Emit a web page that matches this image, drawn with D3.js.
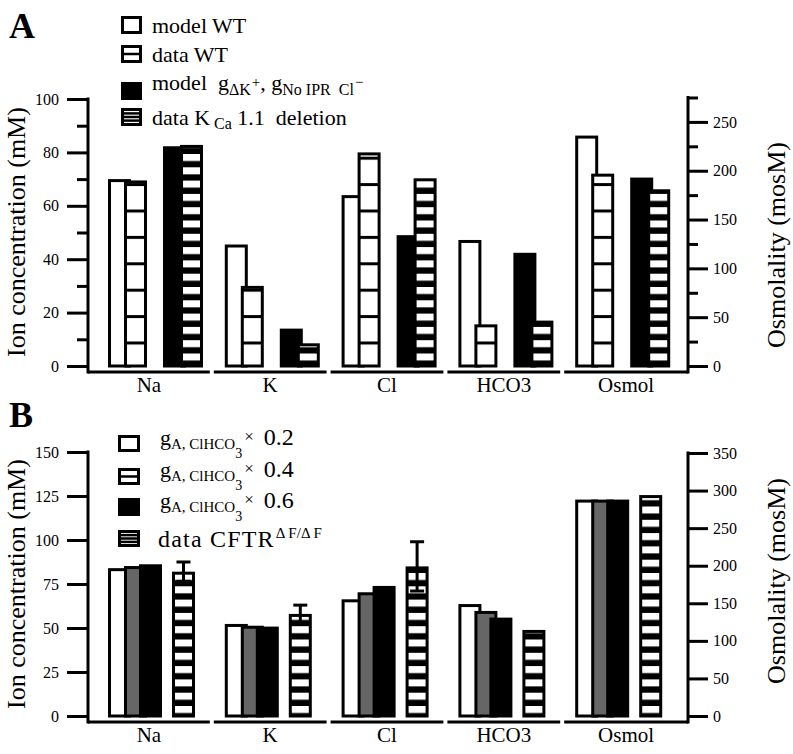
<!DOCTYPE html>
<html><head><meta charset="utf-8">
<script src="https://cdn.jsdelivr.net/npm/d3@7"></script>
<style>
body{margin:0;background:#fff}
svg{display:block}
text{font-family:"Liberation Serif","Times New Roman",serif;fill:#000;white-space:pre}
</style>
</head><body>
<svg id="c" width="793" height="754"></svg>
<script>
// ---------- DATA ----------
const categories = ["Na", "K", "Cl", "HCO3", "Osmol"];
// Panel A (ion concentrations in mM, Osmol in mosM)
const aModelWT  = [70, 45.5, 64, 47.2, 236];
const aDataWT   = [69.5, 30, 80, 15.6, 197];
const aModelDel = [82.3, 14, 49, 42.4, 193];
const aDataDel  = [82.8, 8.5, 70.3, 17, 181];
// Panel B
const bG02      = [84, 52.3, 66.3, 63.6, 288];
const bG04      = [85.2, 51.3, 70.3, 59.7, 288];
const bG06      = [86.2, 50.8, 73.9, 55.9, 288];
const bCFTR     = [82, 58, 85, 48.9, 294];
const bCFTRErr  = [5.5, 5, 14, 0, 0];
// Axis ticks
const aLeftMajor  = [0, 20, 40, 60, 80, 100];
const aLeftMinor  = [10, 30, 50, 70, 90];
const aRightMajor = [0, 50, 100, 150, 200, 250];
const aRightMinor = [25, 75, 125, 175, 225, 275];
const bLeftMajor  = [0, 25, 50, 75, 100, 125, 150];
const bRightMajor = [0, 50, 100, 150, 200, 250, 300, 350];

// ---------- SETUP ----------
const svg = d3.select("#c");
const axL = 88, axR = 688;
const x = d3.scaleBand().domain(categories).range([96, 680]);
const gx = c => x(c) + 12;

const yA  = d3.scaleLinear().domain([0, 100]).range([366, 99]);
const yA2 = d3.scaleLinear().domain([0, 275]).range([366, 97.5]);
const yB  = d3.scaleLinear().domain([0, 150]).range([716, 452]);
const yB2 = d3.scaleLinear().domain([0, 350]).range([716, 453]);

// patterns
const defs = svg.append("defs");
function sparse(id, y0) {
  const p = defs.append("pattern").attr("id", id).attr("patternUnits", "userSpaceOnUse")
    .attr("width", 10).attr("height", 26.4).attr("patternTransform", `translate(0,${y0})`);
  p.append("rect").attr("width", 10).attr("height", 26.4).attr("fill", "#fff");
  p.append("rect").attr("width", 10).attr("height", 3).attr("fill", "#000");
}
function dense(id, y0) {
  const p = defs.append("pattern").attr("id", id).attr("patternUnits", "userSpaceOnUse")
    .attr("width", 10).attr("height", 13.3).attr("patternTransform", `translate(0,${y0})`);
  p.append("rect").attr("width", 10).attr("height", 13.3).attr("fill", "#000");
  p.append("rect").attr("width", 10).attr("height", 7).attr("fill", "#fff");
}
sparse("sparseA", 341.5);
dense("denseA", 353.5);
dense("denseB", 706);

// ---------- AXES ----------
function styleAxis(g, fs) {
  g.select(".domain").remove();
  g.selectAll(".tick line").attr("stroke", "#000").attr("stroke-width", 3);
  g.selectAll(".tick text").attr("font-size", fs).attr("fill", "#000");
  g.attr("font-family", null);
}
function panelAxes(yL, yR, lMajor, lMinor, rMajor, rMinor, xAxisY, leftTop, rightTop) {
  const gL = svg.append("g").attr("transform", `translate(${axL},0)`)
    .call(d3.axisLeft(yL).tickValues(lMajor).tickSize(21).tickPadding(8).tickSizeOuter(0));
  styleAxis(gL, 16);
  if (lMinor.length) {
    const gLm = svg.append("g").attr("transform", `translate(${axL},0)`)
      .call(d3.axisLeft(yL).tickValues(lMinor).tickSize(11).tickFormat("").tickSizeOuter(0));
    styleAxis(gLm, 16);
  }
  const gR = svg.append("g").attr("transform", `translate(${axR},0)`)
    .call(d3.axisRight(yR).tickValues(rMajor).tickSize(20).tickPadding(5).tickSizeOuter(0));
  styleAxis(gR, 16);
  if (rMinor.length) {
    const gRm = svg.append("g").attr("transform", `translate(${axR},0)`)
      .call(d3.axisRight(yR).tickValues(rMinor).tickSize(10).tickFormat("").tickSizeOuter(0));
    styleAxis(gRm, 16);
  }
  svg.append("line").attr("x1", axL).attr("x2", axL).attr("y1", leftTop - 1.5).attr("y2", xAxisY + 1.5)
    .attr("stroke", "#000").attr("stroke-width", 3);
  svg.append("line").attr("x1", axR).attr("x2", axR).attr("y1", rightTop - 1.5).attr("y2", xAxisY + 1.5)
    .attr("stroke", "#000").attr("stroke-width", 3);
  // broken x axis segments
  categories.forEach((c, i) => {
    const x0 = i === 0 ? axL : x(c) + 1;
    const x1 = i === categories.length - 1 ? axR : x(c) + x.step() - 3;
    svg.append("line").attr("x1", x0).attr("x2", x1).attr("y1", xAxisY).attr("y2", xAxisY)
      .attr("stroke", "#000").attr("stroke-width", 3);
    svg.append("text").attr("x", (x0 + x1) / 2).attr("y", xAxisY + 20).attr("text-anchor", "middle")
      .attr("font-size", 21).text(c);
  });
}
panelAxes(yA, yA2, aLeftMajor, aLeftMinor, aRightMajor, aRightMinor, 372, yA(100), yA2(275));
panelAxes(yB, yB2, bLeftMajor, [], bRightMajor, [], 722, yB(150), yB2(350));

// ---------- BARS ----------
const BW = 20;
function drawSeries(vals, yL, yR, off, fill) {
  svg.append("g").selectAll("rect").data(categories).join("rect")
    .attr("x", c => gx(c) + off + 1.5)
    .attr("width", BW)
    .attr("y", (c, i) => (c === "Osmol" ? yR : yL)(vals[i]) + 1.5)
    .attr("height", (c, i) => { const s = c === "Osmol" ? yR : yL; return s(0) - s(vals[i]) - 1.5; })
    .attr("fill", fill).attr("stroke", "#000").attr("stroke-width", 3);
}
drawSeries(aModelWT, yA, yA2, 0, "#fff");
drawSeries(aDataWT, yA, yA2, 16, "url(#sparseA)");
drawSeries(aModelDel, yA, yA2, 55, "#000");
drawSeries(aDataDel, yA, yA2, 72, "url(#denseA)");

drawSeries(bG02, yB, yB2, 0, "#fff");
drawSeries(bG04, yB, yB2, 16, "#666");
drawSeries(bG06, yB, yB2, 31, "#000");
drawSeries(bCFTR, yB, yB2, 64, "url(#denseB)");

// error bars
const eg = svg.append("g");
categories.forEach((c, i) => {
  if (!bCFTRErr[i]) return;
  const cx = gx(c) + 64 + 1.5 + BW / 2;
  const yt = yB(bCFTR[i] + bCFTRErr[i]), yb = yB(bCFTR[i] - bCFTRErr[i]);
  eg.append("line").attr("x1", cx).attr("x2", cx).attr("y1", yt).attr("y2", yb).attr("stroke", "#000").attr("stroke-width", 3);
  [yt, yb].forEach(yy => eg.append("line").attr("x1", cx - 7).attr("x2", cx + 7).attr("y1", yy).attr("y2", yy)
    .attr("stroke", "#000").attr("stroke-width", 3));
});

// ---------- TITLES ----------
svg.append("text").attr("x", 9).attr("y", 38).attr("font-size", 36).attr("font-weight", "bold").text("A");
svg.append("text").attr("x", 9).attr("y", 427).attr("font-size", 36).attr("font-weight", "bold").text("B");

function yTitle(txt, xx, cy, fs) {
  return svg.append("text").attr("transform", `translate(${xx},${cy}) rotate(-90)`).attr("text-anchor", "middle")
    .attr("font-size", fs).text(txt);
}
yTitle("Ion concentration (mM)", 25, 232, 26);
yTitle("Osmolality (mosM)", 785, 245, 26);
yTitle("Ion concentration (mM)", 25, 584, 26);
yTitle("Osmolality (mosM)", 785, 581, 26);

// ---------- LEGENDS ----------
function icon(x0, y0, w, h, kind) {
  const g = svg.append("g");
  g.append("rect").attr("x", x0 + 1.5).attr("y", y0 + 1.5).attr("width", w - 3).attr("height", h - 3)
    .attr("fill", kind === "black" ? "#000" : "#fff").attr("stroke", "#000").attr("stroke-width", 3);
  if (kind === "one") {
    g.append("line").attr("x1", x0).attr("x2", x0 + w).attr("y1", y0 + h / 2).attr("y2", y0 + h / 2)
      .attr("stroke", "#000").attr("stroke-width", 2.5);
  }
  if (kind === "three") {
    [0.3, 0.5, 0.7].forEach(f => g.append("line").attr("x1", x0).attr("x2", x0 + w)
      .attr("y1", y0 + h * f).attr("y2", y0 + h * f).attr("stroke", "#000").attr("stroke-width", 2.5));
  }
}
function rich(x0, y0, parts) {
  const t = svg.append("text").attr("x", x0).attr("y", y0);
  let cur = 0;
  parts.forEach(p => {
    const s = t.append("tspan").attr("font-size", p.fs || 22).text(p.t);
    const dy = (p.dy || 0) - cur;
    if (dy) s.attr("dy", dy);
    cur = p.dy || 0;
    if (p.dx) s.attr("dx", p.dx);
    if (p.ls) s.attr("letter-spacing", p.ls);
  });
  return t;
}
// Legend A
icon(121, 16, 21, 18, "white");
rich(152, 33, [{t: "model WT"}]);
icon(121, 45, 21, 18, "one");
rich(152, 62, [{t: "data WT"}]);
icon(121, 82, 21, 18, "black");
rich(152, 90, [{t: "model  g"}, {t: "\u0394K", fs: 16, dy: 5}, {t: "+", fs: 15, dy: -3, dx: 1},
  {t: ", g", fs: 22}, {t: "No IPR  Cl", fs: 16, dy: 5}, {t: "\u2212", fs: 15, dy: -3, dx: 1}]);
icon(121, 108, 21, 18, "three");
rich(152, 125, [{t: "data K"}, {t: " Ca", fs: 16, dy: 4}, {t: " 1.1  deletion", fs: 22}]);

// Legend B
icon(118, 435, 22, 17, "white");
icon(118, 468, 22, 17, "one");
icon(118, 498, 22, 18, "black");
icon(118, 530, 22, 17, "three");
["0.2", "0.4", "0.6"].forEach((m, i) => {
  const by = [445, 477, 508][i];
  rich(160, by, [{t: "g"}, {t: "A, ClHCO", fs: 15, dy: 4}, {t: "3", fs: 14, dy: 13},
    {t: "\u00d7", fs: 17, dy: -3, dx: 2}, {t: m, fs: 24, dy: 0, dx: 10}]);
});
rich(158, 547, [{t: "data CFTR", fs: 24, ls: 1.2}, {t: "\u0394 F/\u0394 F", fs: 15, dy: -9, dx: 1}]);
</script>
</body></html>
